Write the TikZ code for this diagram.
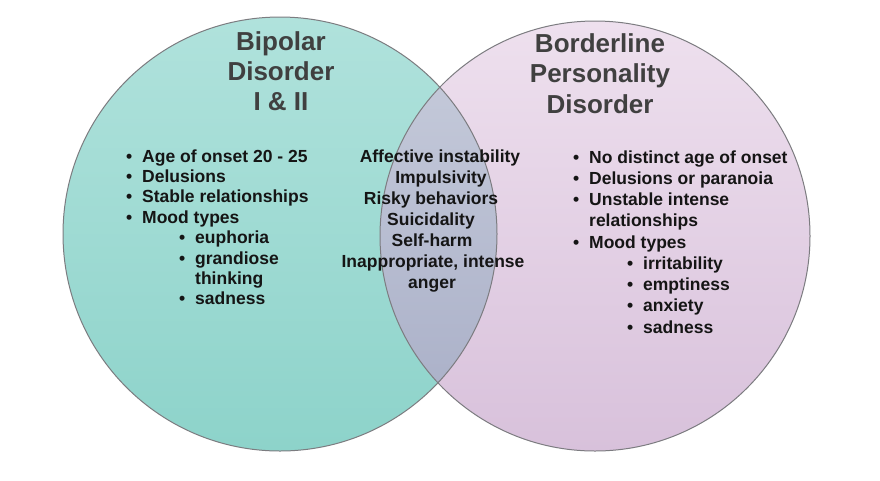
\documentclass[tikz,border=0pt]{standalone}
\usepackage{fontspec}
\setmainfont{Liberation Sans}
\definecolor{tealtop}{HTML}{B0E2DC}
\definecolor{tealbot}{HTML}{8DD3CA}
\definecolor{pinktop}{HTML}{EEE0EE}
\definecolor{pinkbot}{HTML}{D8C1DB}
\definecolor{lenstop}{HTML}{C8CDDC}
\definecolor{lensbot}{HTML}{A7ADC6}
\definecolor{rimgrey}{HTML}{7C7C80}
\definecolor{titlegrey}{HTML}{404040}
\definecolor{bodyink}{HTML}{151515}
\tikzset{
  titletext/.style={font=\fontsize{26}{30}\selectfont\bfseries, text=titlegrey, inner sep=0pt, anchor=base},
  bodytext/.style={font=\fontsize{17.5}{21}\selectfont\bfseries, text=bodyink, inner sep=0pt, anchor=base west},
  midtext/.style={font=\fontsize{17.5}{21}\selectfont\bfseries, text=bodyink, inner sep=0pt, anchor=base},
  rim/.style={draw=rimgrey, line width=1pt}
}
\begin{document}
\begin{tikzpicture}[x=1pt,y=-1pt]
\useasboundingbox (0,0) rectangle (880,480);
\fill[white] (0,0) rectangle (880,480);
% circles
\shade[top color=tealtop, bottom color=tealbot] (280,234) circle[radius=217];
\shade[top color=pinktop, bottom color=pinkbot] (595,236) circle[radius=215];
\begin{scope}
  \clip (280,234) circle[radius=217];
  \shade[top color=lenstop, bottom color=lensbot] (595,236) circle[radius=215];
\end{scope}
\draw[rim] (280,234) circle[radius=217];
\draw[rim] (595,236) circle[radius=215];
% titles
\node[titletext] (t1) at (281,50) {Bipolar};
\node[titletext] (t2) at (281,80) {Disorder};
\node[titletext] (t3) at (281,110) {I \& II};
\node[titletext] (r1) at (600,52) {Borderline};
\node[titletext] (r2) at (600,82.5) {Personality};
\node[titletext] (r3) at (600,113) {Disorder};
% left list
\node[bodytext] (lb1) at (126,162) {•};
\node[bodytext] (l1) at (142,162) {Age of onset 20 - 25};
\node[bodytext] (lb2) at (126,182.4) {•};
\node[bodytext] (l2) at (142,182.4) {Delusions};
\node[bodytext] (lb3) at (126,202.8) {•};
\node[bodytext] (l3) at (142,202.8) {Stable relationships};
\node[bodytext] (lb4) at (126,223.2) {•};
\node[bodytext] (l4) at (142,223.2) {Mood types};
\node[bodytext] (lb5) at (179,243.6) {•};
\node[bodytext] (l5) at (195,243.6) {euphoria};
\node[bodytext] (lb6) at (179,264) {•};
\node[bodytext] (l6) at (195,264) {grandiose};
\node[bodytext] (l7) at (195,284.4) {thinking};
\node[bodytext] (lb8) at (179,304.8) {•};
\node[bodytext] (l8) at (195,304.8) {sadness};
% middle list
\node[midtext] (m1) at (440,162) {Affective instability};
\node[midtext] (m2) at (441,183) {Impulsivity};
\node[midtext] (m3) at (431,204) {Risky behaviors};
\node[midtext] (m4) at (431,225) {Suicidality};
\node[midtext] (m5) at (432,246) {Self-harm};
\node[midtext] (m6) at (433,267) {Inappropriate, intense};
\node[midtext] (m7) at (432,288) {anger};
% right list
\node[bodytext] (rb1) at (573,163) {•};
\node[bodytext] (rr1) at (589,163) {No distinct age of onset};
\node[bodytext] (rb2) at (573,184.25) {•};
\node[bodytext] (rr2) at (589,184.25) {Delusions or paranoia};
\node[bodytext] (rb3) at (573,205.5) {•};
\node[bodytext] (rr3) at (589,205.5) {Unstable intense};
\node[bodytext] (rr4) at (589,226.75) {relationships};
\node[bodytext] (rb5) at (573,248) {•};
\node[bodytext] (rr5) at (589,248) {Mood types};
\node[bodytext] (rb6) at (627,269.25) {•};
\node[bodytext] (rr6) at (643,269.25) {irritability};
\node[bodytext] (rb7) at (627,290.5) {•};
\node[bodytext] (rr7) at (643,290.5) {emptiness};
\node[bodytext] (rb8) at (627,311.75) {•};
\node[bodytext] (rr8) at (643,311.75) {anxiety};
\node[bodytext] (rb9) at (627,333) {•};
\node[bodytext] (rr9) at (643,333) {sadness};
\end{tikzpicture}
\end{document}
